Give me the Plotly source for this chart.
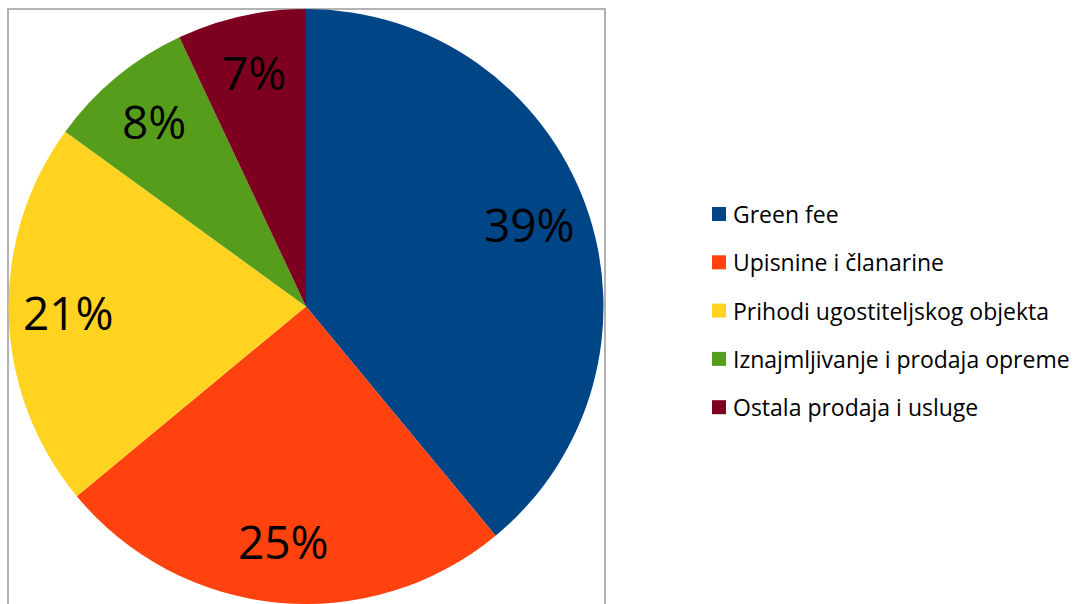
import math
import plotly.graph_objects as go

categories = ["Green fee", "Upisnine i članarine", "Prihodi ugostiteljskog objekta",
              "Iznajmljivanje i prodaja opreme", "Ostala prodaja i usluge"]
values = [39, 25, 21, 8, 7]
colors = ["#004586", "#ff420e", "#ffd320", "#579d1c", "#7e0021"]

W, H = 1079, 604
font_family = "Open Sans, Lato, sans-serif"

# pie geometry (pixels)
dom_x = (8, 604)
dom_y_top = 9
dom_h = H - dom_y_top

fig = go.Figure()
fig.add_trace(go.Pie(
    labels=categories,
    values=values,
    marker=dict(colors=colors, line=dict(width=0)),
    sort=False,
    direction="clockwise",
    rotation=0,
    textinfo="none",
    domain=dict(x=[dom_x[0] / W, dom_x[1] / W], y=[0, 1 - dom_y_top / H]),
    showlegend=False,
    hoverinfo="label+percent",
))

# Percent labels placed at 0.8 radius along each slice's mid-angle
cx = (dom_x[0] + dom_x[1]) / 2
r = min(dom_x[1] - dom_x[0], dom_h) / 2
cy = dom_y_top + dom_h / 2
total = sum(values)
cum = 0
for v in values:
    mid = (cum + v / 2) / total * 2 * math.pi
    cum += v
    px = cx + 0.8 * r * math.sin(mid)
    py = cy - 0.8 * r * math.cos(mid) - 2
    fig.add_annotation(xref="paper", yref="paper", x=px / W, y=1 - py / H,
                       xanchor="center", yanchor="middle", showarrow=False,
                       text=f"{round(100 * v / total)}%",
                       font=dict(family=font_family, size=46, color="#000000"))

# Plot-area border
fig.add_shape(type="rect", xref="paper", yref="paper",
              x0=8 / W, x1=605 / W, y0=-0.05, y1=1 - 9 / H,
              line=dict(color="#b3b3b3", width=2), fillcolor="rgba(0,0,0,0)", layer="below")

# Manual legend
leg_x_sq = 712
leg_y0 = 214
leg_dy = 48.3
for i, (cat, col) in enumerate(zip(categories, colors)):
    yc = leg_y0 + i * leg_dy
    fig.add_shape(type="rect", xref="paper", yref="paper",
                  x0=leg_x_sq / W, x1=(leg_x_sq + 14) / W,
                  y0=1 - (yc + 7) / H, y1=1 - (yc - 7) / H,
                  line=dict(width=0), fillcolor=col)
    fig.add_annotation(xref="paper", yref="paper", x=731 / W, y=1 - yc / H,
                       xanchor="left", yanchor="middle", showarrow=False,
                       text=cat, font=dict(family=font_family, size=23, color="#000000"))

fig.update_layout(
    width=W, height=H,
    margin=dict(l=0, r=0, t=0, b=0),
    paper_bgcolor="#ffffff",
    plot_bgcolor="#ffffff",
)

fig.write_html("out.html", config={"displayModeBar": False},
               post_script="document.body.style.margin='0';")
